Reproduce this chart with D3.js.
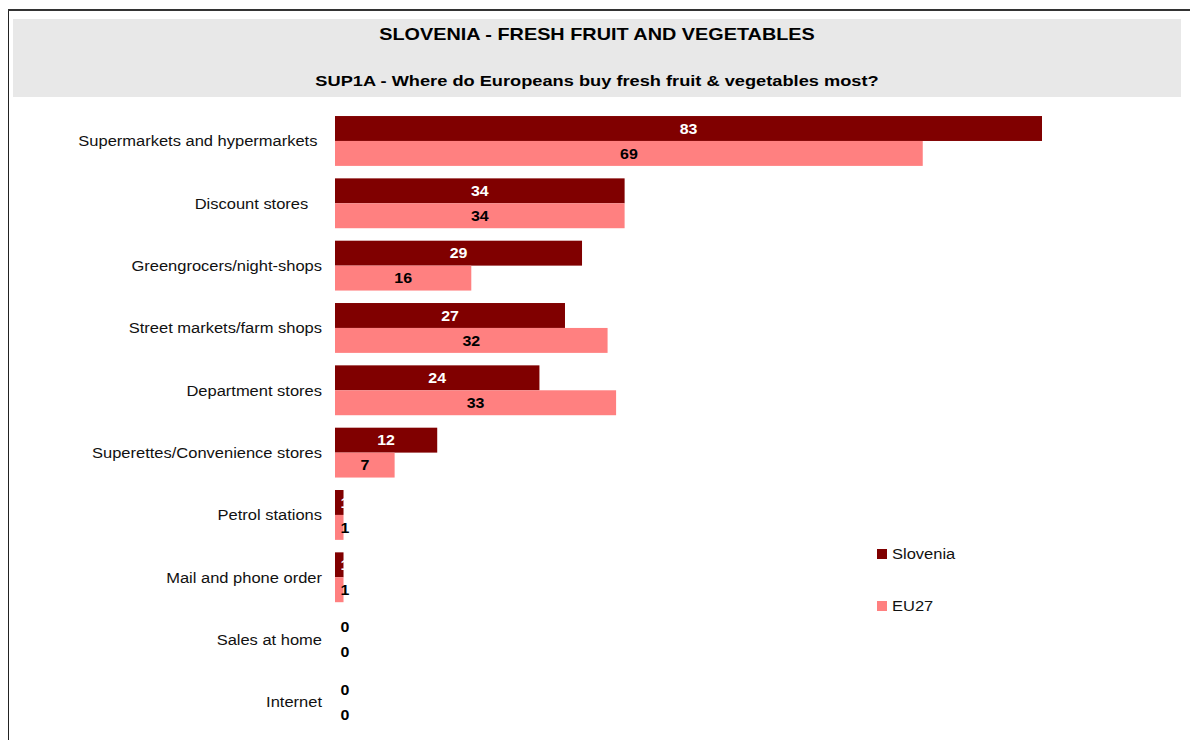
<!doctype html>
<html>
<head>
  <meta charset="utf-8">
  <title>Slovenia - fresh fruit and vegetables</title>
  <script src="https://cdnjs.cloudflare.com/ajax/libs/d3/7.8.5/d3.min.js"></script>
  <style>
    html, body { margin: 0; padding: 0; background: #fff; }
    svg { display: block; font-family: "Liberation Sans", Arial, sans-serif; }
  </style>
</head>
<body>
  <div id="chart"></div>
  <script>
    // data
    const categories = [
      "Supermarkets and hypermarkets ",
      "Discount stores   ",
      "Greengrocers/night-shops",
      "Street markets/farm shops",
      "Department stores",
      "Superettes/Convenience stores",
      "Petrol stations",
      "Mail and phone order",
      "Sales at home",
      "Internet"
    ];
    const slovenia = [83, 34, 29, 27, 24, 12, 1, 1, 0, 0];
    const eu27 = [69, 34, 16, 32, 33, 7, 1, 1, 0, 0];
    const seriesNames = ["Slovenia", "EU27"];
    const colors = ["#800000", "#ff8080"];

    const W = 1190, H = 740;
    const svg = d3.select('#chart').append('svg')
      .attr('width', W).attr('height', H);

    // the original text is a little wider than Liberation Sans, so stretch it
    const place = (px, py, sx) => `translate(${px},${py}) scale(${sx},1)`;

    // outer frame
    svg.append('line').attr('x1', 8.5).attr('x2', 8.5).attr('y1', 9).attr('y2', H)
      .style('stroke', '#222').style('stroke-width', 1);
    svg.append('line').attr('x1', 8).attr('x2', W).attr('y1', 10).attr('y2', 10)
      .style('stroke', '#333').style('stroke-width', 2);

    // title box
    svg.append('rect').attr('x', 13).attr('y', 19).attr('width', 1168).attr('height', 78)
      .style('fill', '#e8e8e8');
    svg.append('text').attr('transform', place(597, 40, 1.24)).attr('text-anchor', 'middle')
      .style('font-weight', 'bold').style('font-size', '16px')
      .text('SLOVENIA - FRESH FRUIT AND VEGETABLES');
    svg.append('text').attr('transform', place(597, 86, 1.215)).attr('text-anchor', 'middle')
      .style('font-weight', 'bold').style('font-size', '15px')
      .text('SUP1A - Where do Europeans buy fresh fruit & vegetables most?');

    const x = d3.scaleLinear().domain([0, 83]).range([335, 1042]);
    const y = d3.scaleBand().domain(categories).range([109.8, 733.1])
      .paddingInner(0.2).paddingOuter(0.1);
    const ySub = d3.scaleBand().domain(seriesNames).range([0, y.bandwidth()]);

    const rows = categories.map((c, i) => ({ cat: c, values: [slovenia[i], eu27[i]] }));

    // category labels
    svg.append('g').selectAll('text')
      .data(categories)
      .join('text')
      .attr('transform', d => place(322, y(d) + y.bandwidth() / 2, 1.1))
      .attr('dy', '0.35em')
      .attr('text-anchor', 'end')
      .style('font-size', '15px')
      .style('white-space', 'pre')
      .style('fill', '#111')
      .text(d => d);

    const groups = svg.append('g').selectAll('g')
      .data(rows)
      .join('g')
      .attr('transform', d => `translate(0,${y(d.cat)})`);

    const cells = d => d.values.map((v, k) => ({ v, k }));

    groups.selectAll('rect')
      .data(cells)
      .join('rect')
      .attr('x', x(0))
      .attr('y', d => ySub(seriesNames[d.k]))
      .attr('width', d => x(d.v) - x(0))
      .attr('height', ySub.bandwidth())
      .style('fill', d => colors[d.k]);

    groups.selectAll('text')
      .data(cells)
      .join('text')
      .attr('transform', d => place(Math.max((x(0) + x(d.v)) / 2, x(0) + 10),
        ySub(seriesNames[d.k]) + ySub.bandwidth() / 2, 1.1))
      .attr('dy', '0.36em')
      .attr('text-anchor', 'middle')
      .style('font-size', '14.5px')
      .style('font-weight', 'bold')
      .style('fill', d => (d.k === 0 && d.v > 0) ? '#fff' : '#000')
      .text(d => d.v);

    // legend
    const legend = svg.append('g').selectAll('g')
      .data(seriesNames)
      .join('g')
      .attr('transform', (d, i) => `translate(877,${549 + i * 52})`);
    legend.append('rect').attr('width', 10).attr('height', 10)
      .style('fill', (d, i) => colors[i]);
    legend.append('text').attr('transform', place(15, 5, 1.1)).attr('dy', '0.36em')
      .style('font-size', '15px').style('fill', '#111')
      .text(d => d);
  </script>
</body>
</html>
